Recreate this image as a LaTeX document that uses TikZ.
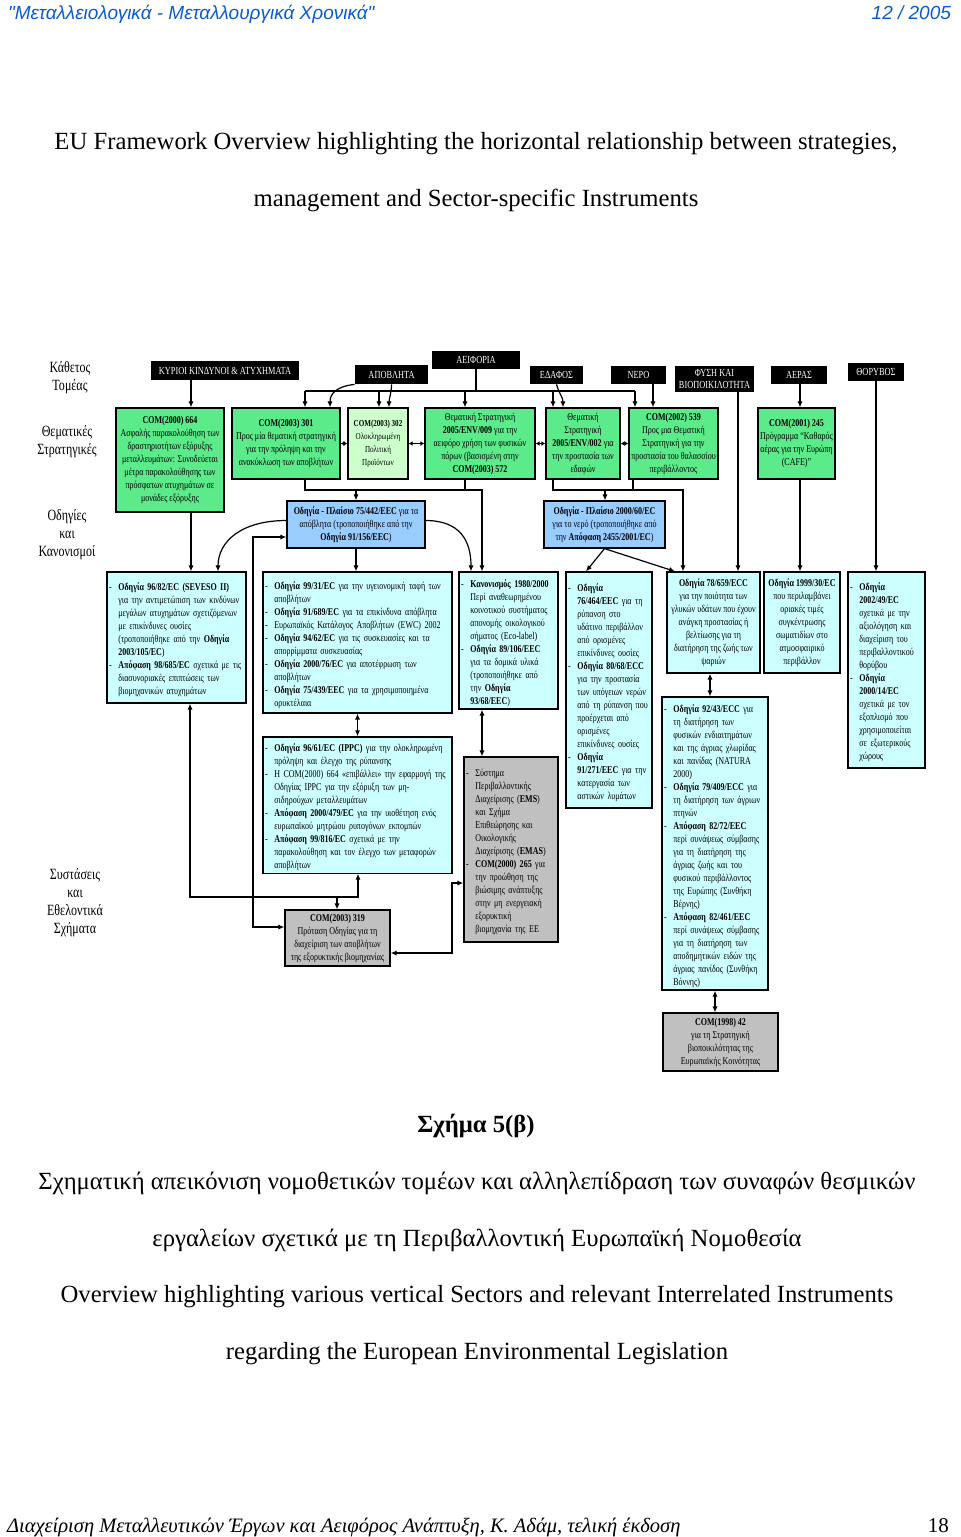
\documentclass[tikz,border=0pt]{standalone}
\usepackage{fontspec}
\setmainfont{Liberation Serif}
\newfontfamily\hdfont{Liberation Sans}
\newfontfamily\dgfont{Liberation Serif}[FakeStretch=0.77]
\usetikzlibrary{arrows.meta,positioning}
\definecolor{hdBlue}{HTML}{0A5CCC}
\definecolor{stratGreen}{HTML}{5CEB8A}
\definecolor{paleGreen}{HTML}{CCFFCC}
\definecolor{frameBlue}{HTML}{99CCFF}
\definecolor{dirCyan}{HTML}{CCFFFF}
\definecolor{volGray}{HTML}{C0C0C0}
\newcommand{\itm}{\par\rightskip=0pt plus 1fil\hangindent=0.9em\hangafter=1\noindent\makebox[0.9em][l]{-}}
\newcommand{\nl}{\newline}

\begin{document}
\begin{tikzpicture}[x=0.5pt,y=-0.5pt,>={Latex[length=3pt,width=2.6pt]},
  box/.style={draw,line width=0.6pt,inner xsep=1pt,inner ysep=1pt,
    font=\dgfont\fontsize{5.2}{6.5}\selectfont},
  strat/.style={box,fill=stratGreen,align=center},
  frame/.style={box,fill=frameBlue,align=center},
  dir/.style={box,fill=dirCyan,align=left},
  vol/.style={box,fill=volGray,align=left},
  lab/.style={fill=black,text=white,inner sep=0pt,align=center,
    font=\dgfont\fontsize{5.4}{6.4}\selectfont},
  side/.style={align=center,font=\dgfont\fontsize{7.8}{9}\selectfont},
  ttl/.style={anchor=base,font=\fontsize{12.35}{15}\selectfont},
  ln/.style={line width=0.6pt},
  arr/.style={ln,->},
  dbl/.style={ln,<->},
  dot/.style={ln,{Latex[length=2pt,width=2.4pt]}-{Latex[length=2pt,width=2.4pt]}}]
\useasboundingbox (0,0) rectangle (960,1537);

% running head and foot
\node[anchor=base west,text=hdBlue,font=\hdfont\itshape\fontsize{9.5}{11}\selectfont] (hdl) at (1,19)
  {"Μεταλλειολογικά - Μεταλλουργικά Χρονικά"};
\node[anchor=base east,text=hdBlue,font=\hdfont\itshape\fontsize{9.5}{11}\selectfont] (hdr) at (958,19) {12 / 2005};
\node[anchor=base west,font=\itshape\fontsize{10.25}{12}\selectfont] (ftl) at (0,1532)
  {Διαχείριση Μεταλλευτικών Έργων και Αειφόρος Ανάπτυξη, Κ. Αδάμ, τελική έκδοση};
\node[anchor=base east,font=\fontsize{10.5}{12}\selectfont] (ftr) at (956,1532) {18};

% titles
\node[ttl] (tl1) at (476,149) {EU Framework Overview highlighting the horizontal relationship between strategies,};
\node[ttl] (tl2) at (476,206) {management and Sector-specific Instruments};
\node[ttl,font=\bfseries\fontsize{12.35}{15}\selectfont] (cp0) at (476,1132) {Σχήμα 5(β)};
\node[ttl] (cp1) at (477,1189) {Σχηματική απεικόνιση νομοθετικών τομέων και αλληλεπίδραση των συναφών θεσμικών};
\node[ttl] (cp2) at (477,1246) {εργαλείων σχετικά με τη Περιβαλλοντική Ευρωπαϊκή Νομοθεσία};
\node[ttl] (cp3) at (477,1302) {Overview highlighting various vertical Sectors and relevant Interrelated Instruments};
\node[ttl] (cp4) at (477,1359) {regarding the European Environmental Legislation};

% row captions
\node[side] (s1) at (70,378) {Κάθετος\\Τομέας};
\node[side] (s2) at (67,442) {Θεματικές\\Στρατηγικές};
\node[side] (s3) at (67,535) {Οδηγίες\\και\\Κανονισμοί};
\node[side] (s4) at (75,903) {Συστάσεις\\και\\Εθελοντικά\\Σχήματα};

% vertical sectors
\node[lab,minimum width=74pt,minimum height=9.5pt] (kin) at (225,370.5) {ΚΥΡΙΟΙ ΚΙΝΔΥΝΟΙ \& ΑΤΥΧΗΜΑΤΑ};
\node[lab,minimum width=36.5pt,minimum height=9.5pt] (apob) at (391.5,374.5) {ΑΠΟΒΛΗΤΑ};
\node[lab,minimum width=44pt,minimum height=9pt] (aeif) at (476,360) {ΑΕΙΦΟΡΙΑ};
\node[lab,minimum width=26.5pt,minimum height=9pt] (edaf) at (556.5,375) {ΕΔΑΦΟΣ};
\node[lab,minimum width=27.5pt,minimum height=9pt] (nero) at (638.5,375) {ΝΕΡΟ};
\node[lab,minimum width=39.5pt,minimum height=13pt] (fysi) at (714.5,379) {ΦΥΣΗ ΚΑΙ\\ΒΙΟΠΟΙΚΙΛΟΤΗΤΑ};
\node[lab,minimum width=28pt,minimum height=9pt] (aeras) at (799,375) {ΑΕΡΑΣ};
\node[lab,minimum width=28pt,minimum height=9pt] (thor) at (876,372) {ΘΟΡΥΒΟΣ};

% thematic strategies
\node[strat,minimum width=54pt,minimum height=52pt] (g1) at (170,460)
  {\textbf{COM(2000) 664}\\ Ασφαλής παρακολούθηση των\\ δραστηριοτήτων εξόρυξης\\ μεταλλευμάτων: Συνοδεύεται\\ μέτρα παρακολούθησης των\\ πρόσφατων ατυχημάτων σε\\ μονάδες εξόρυξης};
\node[strat,minimum width=54pt,minimum height=35.5pt] (g2) at (286,443.5)
  {\textbf{COM(2003) 301}\\ Προς μία θεματική στρατηγική\\ για την πρόληψη και την\\ ανακύκλωση των αποβλήτων};
\node[strat,fill=paleGreen,minimum width=30pt,minimum height=35.5pt,
  font=\dgfont\fontsize{4.6}{6.5}\selectfont] (g3) at (378,443.5)
  {\textbf{COM(2003) 302}\\ Ολοκληρωμένη\\ Πολιτική\\ Προϊόντων};
\node[strat,minimum width=55pt,minimum height=35.5pt] (g4) at (480,443.5)
  {Θεματική Στρατηγική\\ \textbf{2005/ENV/009} για την\\ αειφόρο χρήση των φυσικών\\ πόρων (βασισμένη στην\\ \textbf{COM(2003) 572}};
\node[strat,minimum width=37pt,minimum height=35.5pt] (g5) at (583,443.5)
  {Θεματική\\ Στρατηγική\\ \textbf{2005/ENV/002} για\\ την προστασία των\\ εδαφών};
\node[strat,minimum width=44.5pt,minimum height=35.5pt] (g6) at (673.5,443.5)
  {\textbf{COM(2002) 539}\\ Προς μια Θεματική\\ Στρατηγική για την\\ προστασία του θαλασσίου\\ περιβάλλοντος};
\node[strat,minimum width=38.5pt,minimum height=35.5pt] (g7) at (796.5,443.5)
  {\textbf{COM(2001) 245}\\ Πρόγραμμα “Καθαρός\\ αέρας για την Ευρώπη\\ (CAFE)”};

% framework directives
\node[frame,minimum width=69pt,minimum height=23.5pt] (b1) at (356,524.5)
  {\textbf{Οδηγία - Πλαίσιο 75/442/EEC} για τα\\ απόβλητα (τροποποιήθηκε από την\\ \textbf{Οδηγία 91/156/EEC})};
\node[frame,minimum width=60.5pt,minimum height=23.5pt] (b2) at (604.5,524.5)
  {\textbf{Οδηγία - Πλαίσιο 2000/60/EC}\\ για το νερό (τροποποιήθηκε από\\ την \textbf{Απόφαση 2455/2001/EC})};

% directives and regulations
\node[dir,text width=67.5pt,minimum height=65.5pt] (c1) at (176.5,637.5)
  {\itm\textbf{Οδηγία 96/82/EC (SEVESO II)}\nl για την αντιμετώπιση των κινδύνων\nl μεγάλων ατυχημάτων σχετιζόμενων\nl με επικίνδυνες ουσίες\nl (τροποποιήθηκε από την \textbf{Οδηγία}\nl \textbf{2003/105/EC})
   \itm\textbf{Απόφαση 98/685/EC} σχετικά με τις\nl διασυνοριακές επιπτώσεις των\nl βιομηχανικών ατυχημάτων\par};
\node[dir,text width=92.5pt,minimum height=70.5pt] (c2) at (357.5,642.5)
  {\itm\textbf{Οδηγία 99/31/EC} για την υγειονομική ταφή των\nl αποβλήτων
   \itm\textbf{Οδηγία 91/689/EC} για τα επικίνδυνα απόβλητα
   \itm Ευρωπαϊκός Κατάλογος Αποβλήτων (EWC) 2002
   \itm\textbf{Οδηγία 94/62/EC} για τις συσκευασίες και τα\nl απορρίμματα συσκευασίας
   \itm\textbf{Οδηγία 2000/76/EC} για αποτέφρωση των\nl αποβλήτων
   \itm\textbf{Οδηγία 75/439/EEC} για τα χρησιμοποιημένα\nl ορυκτέλαια\par};
\node[dir,text width=47.5pt,minimum height=68.5pt] (c3) at (508.5,640.5)
  {\itm\textbf{Κανονισμός 1980/2000}\nl Περί αναθεωρημένου\nl κοινοτικού συστήματος\nl απονομής οικολογικού\nl σήματος (Eco-label)
   \itm\textbf{Οδηγία 89/106/EEC}\nl για τα δομικά υλικά\nl (τροποποιήθηκε από\nl την \textbf{Οδηγία}\nl \textbf{93/68/EEC})\par};
\node[dir,text width=41pt,minimum height=118pt] (c4) at (609,690)
  {\itm\textbf{Οδηγία}\nl \textbf{76/464/EEC} για τη\nl ρύπανση στο\nl υδάτινο περιβάλλον\nl από ορισμένες\nl επικίνδυνες ουσίες
   \itm\textbf{Οδηγία 80/68/ECC}\nl για την προστασία\nl των υπόγειων νερών\nl από τη ρύπανση που\nl προέρχεται από\nl ορισμένες\nl επικίνδυνες ουσίες
   \itm\textbf{Οδηγία}\nl \textbf{91/271/EEC} για την\nl κατεργασία των\nl αστικών λυμάτων\par};
\node[box,fill=dirCyan,align=center,minimum width=46.5pt,minimum height=50.5pt] (c5) at (713.5,622.5)
  {\textbf{Οδηγία 78/659/ECC}\\ για την ποιότητα των\\ γλυκών υδάτων που έχουν\\ ανάγκη προστασίας ή\\ βελτίωσης για τη\\ διατήρηση της ζωής των\\ ψαριών};
\node[box,fill=dirCyan,align=center,minimum width=38pt,minimum height=50.5pt] (c6) at (802,622.5)
  {\textbf{Οδηγία 1999/30/EC}\\ που περιλαμβάνει\\ οριακές τιμές\\ συγκέντρωσης\\ σωματιδίων στο\\ ατμοσφαιρικό\\ περιβάλλον};
\node[dir,text width=36.5pt,minimum height=98pt] (c7) at (886.5,670)
  {\itm\textbf{Οδηγία}\nl \textbf{2002/49/EC}\nl σχετικά με την\nl αξιολόγηση και\nl διαχείριση του\nl περιβαλλοντικού\nl θορύβου
   \itm\textbf{Οδηγία}\nl \textbf{2000/14/EC}\nl σχετικά με τον\nl εξοπλισμό που\nl χρησιμοποιείται\nl σε εξωτερικούς\nl χώρους\par};
\node[dir,text width=51pt,minimum height=146.5pt] (c8) at (715,843.5)
  {\itm\textbf{Οδηγία 92/43/ECC} για\nl τη διατήρηση των\nl φυσικών ενδιαιτημάτων\nl και της άγριας χλωρίδας\nl και πανίδας (NATURA\nl 2000)
   \itm\textbf{Οδηγία 79/409/ECC} για\nl τη διατήρηση των άγριων\nl πτηνών
   \itm\textbf{Απόφαση 82/72/EEC}\nl περί συνάψεως σύμβασης\nl για τη διατήρηση της\nl άγριας ζωής και του\nl φυσικού περιβάλλοντος\nl της Ευρώπης (Συνθήκη\nl Βέρνης)
   \itm\textbf{Απόφαση 82/461/EEC}\nl περί συνάψεως σύμβασης\nl για τη διατήρηση των\nl αποδημητικών ειδών της\nl άγριας πανίδος (Συνθήκη\nl Βόννης)\par};
\node[dir,text width=92.5pt,minimum height=67pt] (c10) at (357.5,805)
  {\itm\textbf{Οδηγία 96/61/EC (IPPC)} για την ολοκληρωμένη\nl πρόληψη και έλεγχο της ρύπανσης
   \itm Η COM(2000) 664 «επιβάλλει» την εφαρμογή της\nl Οδηγίας IPPC για την εξόρυξη των μη-\nl σιδηρούχων μεταλλευμάτων
   \itm\textbf{Απόφαση 2000/479/EC} για την υιοθέτηση ενός\nl ευρωπαϊκού μητρώου ρυπογόνων εκπομπών
   \itm\textbf{Απόφαση 99/816/EC} σχετικά με την\nl παρακολούθηση και τον έλεγχο των μεταφορών\nl αποβλήτων\par};

% recommendations and voluntary schemes
\node[vol,text width=45pt,minimum height=92.5pt] (ems) at (511,849.5)
  {\itm Σύστημα\nl Περιβαλλοντικής\nl Διαχείρισης (\textbf{EMS})\nl και Σχήμα\nl Επιθεώρησης και\nl Οικολογικής\nl Διαχείρισης (\textbf{EMAS})
   \itm\textbf{COM(2000) 265} για\nl την προώθηση της\nl βιώσιμης ανάπτυξης\nl στην μη ενεργειακή\nl εξορυκτική\nl βιομηχανία της ΕΕ\par};
\node[box,fill=volGray,align=center,minimum width=52.5pt,minimum height=28pt] (c319) at (337.5,938)
  {\textbf{COM(2003) 319}\\ Πρόταση Οδηγίας για τη\\ διαχείριση των αποβλήτων\\ της εξορυκτικής βιομηχανίας};
\node[box,fill=volGray,align=center,minimum width=57.5pt,minimum height=29pt] (c9) at (720.5,1042)
  {\textbf{COM(1998) 42}\\ για τη Στρατηγική\\ βιοποικιλότητας της\\ Ευρωπαϊκής Κοινότητας};

% bends and taps
\coordinate (t2) at (305,391);
\coordinate (t3) at (379,391);
\coordinate (t4) at (465,391);
\coordinate (t5) at (553,391);
\coordinate (t6) at (635,391);
\coordinate (u2) at (305,490);
\coordinate (u4) at (465,490);
\coordinate (ub) at (356,490);
\coordinate (uc) at (482,490);
\coordinate (v5) at (553,490);
\coordinate (v6) at (633,490);
\coordinate (vb) at (605,490);
\coordinate (vc) at (683,490);
\coordinate (k1) at (191,0);
\coordinate (a2) at (330,0);
\coordinate (a3) at (389,0);
\coordinate (e5) at (563,0);
\coordinate (n6) at (653,0);
\coordinate (f5) at (738,0);
\coordinate (r7) at (800,0);
\coordinate (q1) at (218,0);
\coordinate (q3) at (471,0);
\coordinate (d4) at (586,0);
\coordinate (d5) at (675,0);
\coordinate (w8) at (710,0);
\coordinate (lt) at (253,537);
\coordinate (lb) at (253,927);
\coordinate (hl) at (190,897);
\coordinate (hm) at (337,897);
\coordinate (hr) at (358,897);
\coordinate (er) at (452,953);
\coordinate (et) at (452,883);

% sectors to strategies
\draw[arr] (kin.south -| k1) -- (g1.north -| k1);
\draw[arr] (apob.south west) .. controls +(-18,2) and +(0,-14) .. (g2.north -| a2);
\draw[arr] (apob.south) .. controls +(0,8) and +(0,-8) .. (g3.north -| a3);
\draw[ln] (aeif.south) -- (aeif.south |- t2);
\draw[ln] (t2) -- (t6);
\draw[arr] (t2) -- (t2 |- g2.north);
\draw[arr] (t3) -- (t3 |- g3.north);
\draw[arr] (t4) -- (t4 |- g4.north);
\draw[arr] (t5) -- (t5 |- g5.north);
\draw[arr] (t6) -- (t6 |- g6.north);
\draw[arr] (edaf.south) .. controls +(3,10) and +(0,-10) .. (g5.north -| e5);
\draw[arr] (nero.south -| n6) -- (g6.north -| n6);
\draw[arr] (fysi.south -| f5) -- (c5.north -| f5);
\draw[arr] (aeras.south -| r7) -- (g7.north -| r7);
\draw[arr] (thor.south) -- (thor.south |- c7.north);
\draw[dot] (g2.east) -- (g3.west);
\draw[dot] (g3.east) -- (g4.west);
\draw[dot] (g4.east) -- (g5.west);
\draw[dot] (g5.east) -- (g6.west);

% strategies to directives
\draw[arr] (g1.south -| k1) -- (c1.north -| k1);
\draw[arr] (g2.south -| u2) -- (u2) -- (uc) -- (uc |- c3.north);
\draw[ln] (g4.south -| u4) -- (u4);
\draw[arr] (ub) -- (ub |- b1.north);
\draw[arr] (g5.south -| v5) -- (v5) -- (vc) -- (vc |- c5.north);
\draw[ln] (g6.south -| v6) -- (v6);
\draw[arr] (vb) -- (vb |- b2.north);
\draw[arr] (g7.south -| r7) -- (c6.north -| r7);
\draw[arr] (b1.south) -- (b1.south |- c2.north);
\draw[arr] ([yshift=2pt]b1.west) .. controls +(-45,0) and +(0,-30) .. (c1.north -| q1);
\draw[arr] ([yshift=2pt]b1.east) .. controls +(35,0) and +(0,-30) .. (c3.north -| q3);
\draw[arr] (b2.south) -- (c4.north -| d4);
\draw[arr] (b2.south) -- (c5.north -| d5);

% lower links
\draw[dbl] (b1.west |- lt) -- (lt) -- (lb) -- (lb -| c319.west);
\draw[dbl] (c1.south -| hl) -- (hl) -- (hr) -- (hr |- c10.south);
\draw[arr] (hm) -- (hm |- c319.north);
\draw[dbl] (c2.south) -- (c2.south |- c10.north);
\draw[dbl] (c3.south -| uc) -- (uc |- ems.north);
\draw[dbl] (c319.east |- er) -- (er) -- (et) -- (et -| ems.west);
\draw[dbl] (c5.south -| w8) -- (w8 |- c8.north);
\draw[dbl] (c8.south) -- (c8.south |- c9.north);
\end{tikzpicture}
\end{document}
